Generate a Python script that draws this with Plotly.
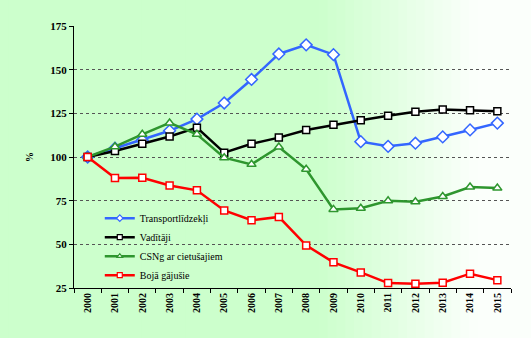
import plotly.graph_objects as go

years = [str(y) for y in range(2000, 2016)]
transport = [100, 105, 109.6, 115, 121.7, 130.9, 144.4, 159, 164.2, 158.6, 108.8, 106.1, 107.9, 111.5, 115.5, 119.4]
vaditaji = [100, 103.4, 107.6, 111.7, 116.8, 102.5, 107.6, 111.1, 115.5, 118.4, 121.1, 123.6, 125.9, 127.2, 126.8, 126.2]
csng = [100, 105.9, 113, 119.5, 113, 99.6, 95.8, 105.7, 93, 70, 70.7, 74.9, 74.4, 77.4, 82.8, 82.2]
boja = [100, 88, 88.1, 83.7, 80.9, 69.4, 63.8, 65.7, 49.4, 39.7, 33.9, 27.8, 27.4, 28, 33.2, 29.5]
y_ticks = [25, 50, 75, 100, 125, 150, 175]

series = [
    ("Transportlīdzekļi", transport, "#3366ff", "diamond", 9, 5),
    ("Vadītāji", vaditaji, "#000000", "square", 7, 5),
    ("CSNg ar cietušajiem", csng, "#2e962e", "triangle-up", 8, 5),
    ("Bojā gājušie", boja, "#ff0000", "square", 7, 5),
]

SERIF = "Liberation Serif, Times New Roman, serif"

fig = go.Figure()
for name, vals, col, sym, sz, lsz in series:
    fig.add_trace(go.Scatter(
        x=years, y=vals, name=name, mode="lines+markers", showlegend=False,
        line=dict(color=col, width=2.5),
        marker=dict(symbol=sym, size=sz, color="white", line=dict(color=col, width=1.5)),
    ))
# legend entries with smaller markers
for name, vals, col, sym, sz, lsz in series:
    fig.add_trace(go.Scatter(
        x=[None], y=[None], name=name, mode="lines+markers", showlegend=True,
        line=dict(color=col, width=2.5),
        marker=dict(symbol=sym, size=lsz, color="white", line=dict(color=col, width=1.2)),
    ))

W, H = 531, 338
L, R, T, B = 74, 20, 26, 50
pw, ph = W - L - R, H - T - B

# background gradient: light green on the left fading to white on the right
shapes = []
n = 60
green = (204, 255, 204)
for i in range(n):
    px0 = W * i / n
    px1 = W * (i + 1) / n
    mid = (px0 + px1) / 2
    if mid < 320:
        t = 0.0
    elif mid > 475:
        t = 1.0
    else:
        t = (mid - 320) / 155
    c = tuple(int(round(g + (255 - g) * t * 0.92)) for g in green)
    shapes.append(dict(
        type="rect", xref="paper", yref="paper",
        x0=(px0 - L) / pw, x1=(px1 - L) / pw + 0.002,
        y0=-B / ph - 0.05, y1=1 + T / ph + 0.05,
        fillcolor="rgb(%d,%d,%d)" % c, line=dict(width=0), layer="below",
    ))

fig.update_layout(
    width=W, height=H,
    margin=dict(l=L, r=R, t=T, b=B),
    paper_bgcolor="white",
    plot_bgcolor="rgba(0,0,0,0)",
    shapes=shapes,
    font=dict(family=SERIF, color="black"),
    showlegend=True,
    legend=dict(
        x=0.059, y=0.322, xanchor="left", yanchor="top",
        bgcolor="rgba(0,0,0,0)", font=dict(size=10, family=SERIF),
        tracegroupgap=0, itemwidth=30,
    ),
    xaxis=dict(
        type="category", range=[-0.5, 15.5],
        showgrid=False, showline=True, linecolor="black", linewidth=1,
        ticks="outside", tickson="boundaries", ticklen=4, tickcolor="black",
        tickangle=-90, tickfont=dict(size=10, family=SERIF, weight="bold"),
        zeroline=False,
    ),
    yaxis=dict(
        range=[25, 175], tickvals=y_ticks,
        showgrid=True, gridcolor="#555555", griddash="dot", gridwidth=1,
        showline=True, linecolor="black", linewidth=1,
        ticks="outside", ticklen=4, tickcolor="black",
        tickfont=dict(size=11, family=SERIF, weight="bold"),
        title=dict(text="%", font=dict(size=10, family=SERIF, weight="bold"), standoff=14),
        zeroline=False,
    ),
)

fig.write_html("out.html")
